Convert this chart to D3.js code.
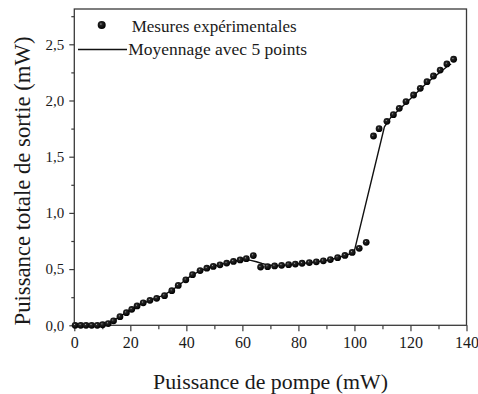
<!DOCTYPE html>
<html><head><meta charset="utf-8">
<script src="https://cdn.jsdelivr.net/npm/d3@7"></script>
<style>
body{margin:0;background:#fff}
svg{display:block}
text{font-family:"Liberation Serif","Times New Roman",serif;fill:#1a1a1a}
</style>
</head><body>
<svg id="c" width="478" height="394"></svg>
<script>
// ---- data ----
const measX = [0.3, 2.3, 4.2, 6.2, 8.2, 10.1, 12.1, 14.0, 16.3, 18.6, 20.5, 22.4, 24.6, 27.0, 29.4, 32.2, 34.8, 37.1, 39.8, 42.2, 44.9, 47.3, 49.6, 52.0, 54.4, 56.8, 59.2, 61.4, 63.9, 66.5, 69.0, 71.5, 74.0, 76.5, 78.9, 81.3, 83.9, 86.4, 88.9, 91.4, 94.0, 96.6, 99.2, 101.7, 104.2, 106.8, 108.8, 111.6, 113.9, 116.0, 118.4, 121.1, 123.5, 125.9, 128.2, 130.6, 133.0, 135.4];
const measY = [0, 0, 0, 0, 0, 0.005, 0.015, 0.04, 0.077, 0.112, 0.142, 0.172, 0.2, 0.222, 0.24, 0.264, 0.308, 0.355, 0.405, 0.45, 0.487, 0.508, 0.524, 0.538, 0.554, 0.568, 0.582, 0.593, 0.62, 0.518, 0.522, 0.528, 0.534, 0.539, 0.545, 0.552, 0.558, 0.565, 0.574, 0.585, 0.602, 0.622, 0.648, 0.685, 0.738, 1.684, 1.749, 1.815, 1.874, 1.930, 1.99, 2.049, 2.108, 2.167, 2.218, 2.271, 2.325, 2.367];
const avgX = [0, 4, 8, 11, 13, 15, 17, 19, 21, 23, 25, 27, 29, 31, 33, 35, 37, 39, 41, 43, 45, 47, 49, 51, 53, 55, 57, 59, 61, 63, 65, 67, 69, 72, 75, 78, 81, 84, 87, 90, 93, 96, 98, 100, 110.7, 113, 116, 118.5, 121, 123.5, 126, 128.5, 131, 133, 134.5];
const avgY = [0, 0, 0.002, 0.01, 0.03, 0.058, 0.09, 0.12, 0.15, 0.178, 0.2, 0.222, 0.242, 0.26, 0.285, 0.315, 0.35, 0.39, 0.428, 0.46, 0.485, 0.505, 0.52, 0.533, 0.546, 0.558, 0.57, 0.58, 0.585, 0.578, 0.565, 0.55, 0.538, 0.53, 0.535, 0.542, 0.55, 0.558, 0.566, 0.578, 0.594, 0.615, 0.632, 0.664, 1.765, 1.85, 1.92, 1.98, 2.04, 2.1, 2.16, 2.21, 2.26, 2.3, 2.325];
const xTicks = [0, 20, 40, 60, 80, 100, 120, 140];
const xMinor = [10, 30, 50, 70, 90, 110, 130];
const yTicks = [0, 0.5, 1.0, 1.5, 2.0, 2.5];
const yTickLabels = ["0,0", "0,5", "1,0", "1,5", "2,0", "2,5"];
const yMinor = [0.25, 0.75, 1.25, 1.75, 2.25, 2.75];
const xTitle = "Puissance de pompe (mW)";
const yTitle = "Puissance totale de sortie (mW)";
const legendLabels = ["Mesures expérimentales", "Moyennage avec 5 points"];

const svg = d3.select("#c");
const L = 74.3, R = 466.5, T = 9, B = 325.3;
const x = d3.scaleLinear().domain([0, 140]).range([L, R]);
const y = d3.scaleLinear().domain([0, 2.814]).range([B, T]);
const axisCol = "#3a3a3a";
const serif = '"Liberation Serif","Times New Roman",serif';

const defs = svg.append("defs");
const g = defs.append("radialGradient").attr("id", "ball").attr("cx", "40%").attr("cy", "38%").attr("r", "60%");
g.append("stop").attr("offset", "0%").attr("stop-color", "#b0b0b0");
g.append("stop").attr("offset", "22%").attr("stop-color", "#262626");
g.append("stop").attr("offset", "100%").attr("stop-color", "#000");

function fit(sel, w) {
  const base = 20;
  sel.style("font-size", base + "px");
  const len = sel.node().getComputedTextLength();
  sel.style("font-size", (base * w / len) + "px");
}

// axes
function styleAxis(a) {
  a.attr("font-family", serif);
  a.selectAll("path.domain").remove();
  a.selectAll("line").attr("stroke", axisCol).attr("stroke-width", 1.2);
}
const xa = svg.append("g").attr("transform", `translate(0,${B})`)
  .call(d3.axisBottom(x).tickValues(xTicks).tickSize(6).tickPadding(5).tickFormat(d3.format("d")));
styleAxis(xa);
xa.selectAll("text").style("font-size", "16px").attr("fill", "#1a1a1a").style("font-family", serif);
const xm = svg.append("g").attr("transform", `translate(0,${B})`)
  .call(d3.axisBottom(x).tickValues(xMinor).tickSize(4).tickFormat(""));
styleAxis(xm);

const ya = svg.append("g").attr("transform", `translate(${L},0)`)
  .call(d3.axisLeft(y).tickValues(yTicks).tickSize(5).tickPadding(5).tickFormat((d, i) => yTickLabels[i]));
styleAxis(ya);
ya.selectAll("text").style("font-size", "15px").attr("fill", "#1a1a1a").style("font-family", serif);
const ym = svg.append("g").attr("transform", `translate(${L},0)`)
  .call(d3.axisLeft(y).tickValues(yMinor).tickSize(3).tickFormat(""));
styleAxis(ym);

// frame
svg.append("rect").attr("x", L).attr("y", T).attr("width", R - L).attr("height", B - T)
  .attr("fill", "none").attr("stroke", axisCol).attr("stroke-width", 1.3);

// averaged line
const avg = avgX.map((d, i) => [d, avgY[i]]);
svg.append("path").datum(avg)
  .attr("d", d3.line().x(d => x(d[0])).y(d => y(d[1])))
  .attr("fill", "none").attr("stroke", "#111").attr("stroke-width", 1.4);

// measured points
const meas = measX.map((d, i) => [d, measY[i]]);
svg.append("g").selectAll("circle").data(meas).join("circle")
  .attr("cx", d => x(d[0])).attr("cy", d => y(d[1])).attr("r", 3.4)
  .attr("fill", "url(#ball)");

// legend
svg.append("circle").attr("cx", 101.7).attr("cy", 25).attr("r", 4).attr("fill", "url(#ball)");
const t1 = svg.append("text").attr("x", 131.7).attr("y", 31.5).text(legendLabels[0]);
fit(t1, 165);
svg.append("line").attr("x1", 78).attr("x2", 127).attr("y1", 49.5).attr("y2", 49.5)
  .attr("stroke", "#111").attr("stroke-width", 1.4);
const t2 = svg.append("text").attr("x", 128.3).attr("y", 55).text(legendLabels[1]);
fit(t2, 179);

// titles
const xt = svg.append("text").attr("x", 270.5).attr("y", 389).attr("text-anchor", "middle").text(xTitle);
fit(xt, 235);
const yt = svg.append("text").attr("transform", "translate(29.5,181) rotate(-90)").attr("text-anchor", "middle").text(yTitle);
fit(yt, 289);
</script>
</body></html>
